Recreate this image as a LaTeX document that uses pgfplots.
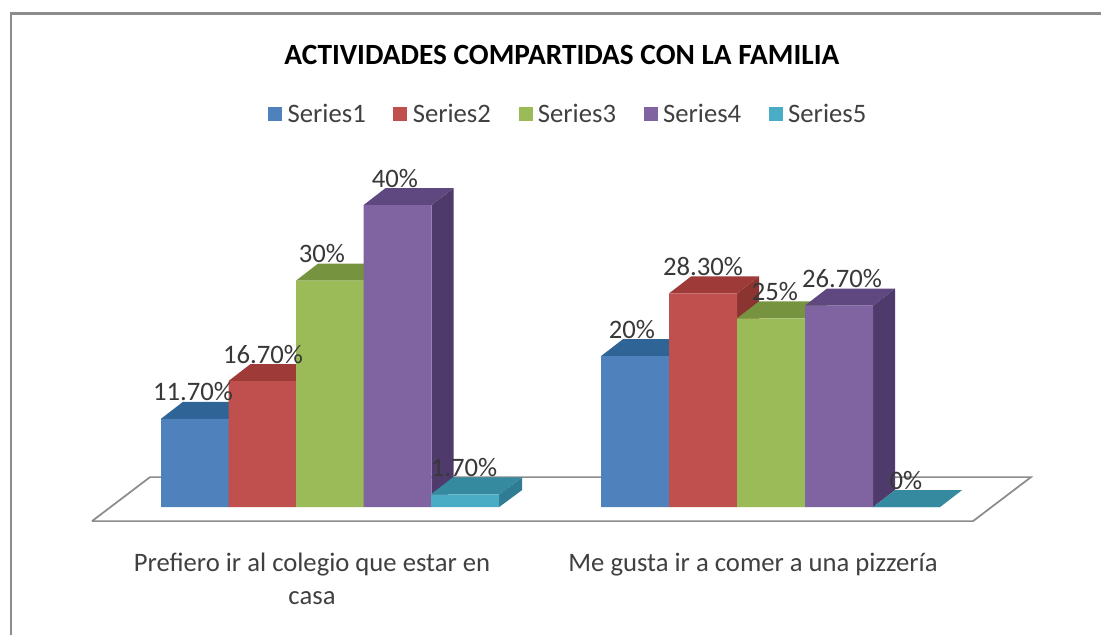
\documentclass[border=0pt]{standalone}
\usepackage{fontspec}
\setmainfont{Carlito}
\usepackage{pgfplots}
\pgfplotsset{compat=1.18}

\definecolor{blueF}{HTML}{4F81BD}
\definecolor{blueT}{HTML}{2F6497}
\definecolor{redF}{HTML}{C0504D}
\definecolor{redT}{HTML}{9E3A37}
\definecolor{redS}{HTML}{8C3431}
\definecolor{greenF}{HTML}{9BBB59}
\definecolor{greenT}{HTML}{769440}
\definecolor{purpleF}{HTML}{8064A2}
\definecolor{purpleT}{HTML}{5F4880}
\definecolor{purpleS}{HTML}{4F3B6B}
\definecolor{tealF}{HTML}{4BACC6}
\definecolor{tealT}{HTML}{358AA0}
\definecolor{tealS}{HTML}{2E7D92}

\pgfplotsset{
  front/.style={ybar, bar width=68, bar shift=0pt, draw=none, fill=#1,
    legend image code/.code={\fill[#1] (0pt,-5.25pt) rectangle (10.5pt,5.25pt);}},
  face/.style={draw=none, fill=#1, forget plot},
}

\begin{document}
\begin{tikzpicture}
\begin{axis}[
    width=825.75pt, height=476.25pt, scale only axis,
    xmin=0, xmax=1101,
    ymin=-16.954, ymax=67.152,
    axis line style={draw=none},
    ytick=\empty,
    xtick={312,753},
    xticklabels={Prefiero ir al colegio que estar en\\casa, Me gusta ir a comer a una pizzería},
    major tick length=0pt,
    xticklabel style={anchor=north, align=center, font=\fontsize{20}{24.5}\selectfont,
      text=black!75, yshift=65pt},
    title={ACTIVIDADES COMPARTIDAS CON LA FAMILIA},
    title style={at={(axis description cs:0.5104,0.9004)}, anchor=center,
      font=\fontsize{22}{24}\selectfont\bfseries},
    legend columns=5,
    legend style={at={(axis description cs:0.5165,0.82)}, anchor=center, draw=none, fill=none,
      font=\fontsize{20}{22}\selectfont, text=black!75,
      /tikz/every odd column/.append style={column sep=2pt},
      /tikz/every even column/.append style={column sep=18.75pt}},
]
% frame, left and top only
\addplot[forget plot, color=black!45, line width=2.2pt] coordinates {(11,-16.954) (11,65.43) (1101,65.43)};
% floor
\addplot[forget plot, fill=white, draw=black!45, line width=1.3pt] coordinates
  {(92,-1.854) (973,-1.854) (1031,3.974) (150,3.974) (92,-1.854)};

% series 1
\addplot[face=blueT] coordinates {(229,0) (251,2.25) (251,13.95) (229,11.7)};
\addplot[face=blueT] coordinates {(161,11.7) (183,13.95) (251,13.95) (229,11.7)};
\addplot[face=blueT] coordinates {(669,0) (691,2.25) (691,22.25) (669,20)};
\addplot[face=blueT] coordinates {(601,20) (623,22.25) (691,22.25) (669,20)};
\addplot[front=blueF] coordinates {(195,11.7) (635,20)};
% series 2
\addplot[face=redS] coordinates {(296.5,0) (318.5,2.25) (318.5,18.95) (296.5,16.7)};
\addplot[face=redT] coordinates {(228.5,16.7) (250.5,18.95) (318.5,18.95) (296.5,16.7)};
\addplot[face=redS] coordinates {(737,0) (759,2.25) (759,30.55) (737,28.3)};
\addplot[face=redT] coordinates {(669,28.3) (691,30.55) (759,30.55) (737,28.3)};
\addplot[front=redF] coordinates {(262.5,16.7) (703,28.3)};
% series 3
\addplot[face=greenT] coordinates {(364,0) (386,2.25) (386,32.25) (364,30)};
\addplot[face=greenT] coordinates {(296,30) (318,32.25) (386,32.25) (364,30)};
\addplot[face=greenT] coordinates {(805,0) (827,2.25) (827,27.25) (805,25)};
\addplot[face=greenT] coordinates {(737,25) (759,27.25) (827,27.25) (805,25)};
\addplot[front=greenF] coordinates {(330,30) (771,25)};
% series 4
\addplot[face=purpleS] coordinates {(431.5,0) (453.5,2.25) (453.5,42.25) (431.5,40)};
\addplot[face=purpleT] coordinates {(363.5,40) (385.5,42.25) (453.5,42.25) (431.5,40)};
\addplot[face=purpleS] coordinates {(873,0) (895,2.25) (895,28.95) (873,26.7)};
\addplot[face=purpleT] coordinates {(805,26.7) (827,28.95) (895,28.95) (873,26.7)};
\addplot[front=purpleF] coordinates {(397.5,40) (839,26.7)};
% series 5
\addplot[face=tealS] coordinates {(499,0) (522,2.25) (522,3.95) (499,1.7)};
\addplot[face=tealT] coordinates {(431,1.7) (453,3.95) (522,3.95) (499,1.7)};
\addplot[face=tealT] coordinates {(873,0) (895,2.25) (962,2.25) (940,0)};
\addplot[front=tealF] coordinates {(465,1.7) (906.5,0)};

% data labels
\addplot[draw=none, forget plot, point meta=explicit symbolic, nodes near coords,
    nodes near coords style={anchor=center, yshift=20.25pt, text=black!78,
      font=\fontsize{20}{22}\selectfont}]
  coordinates {
    (193,11.7)[11.70\%] (263,16.7)[16.70\%] (322,30)[30\%] (395,40)[40\%] (464,1.7)[1.70\%]
    (632,20)[20\%] (703,28.3)[28.30\%] (775,25)[25\%] (842,26.7)[26.70\%] (906,0)[0\%]
  };
\legend{Series1,Series2,Series3,Series4,Series5}
\end{axis}
\end{tikzpicture}
\end{document}
